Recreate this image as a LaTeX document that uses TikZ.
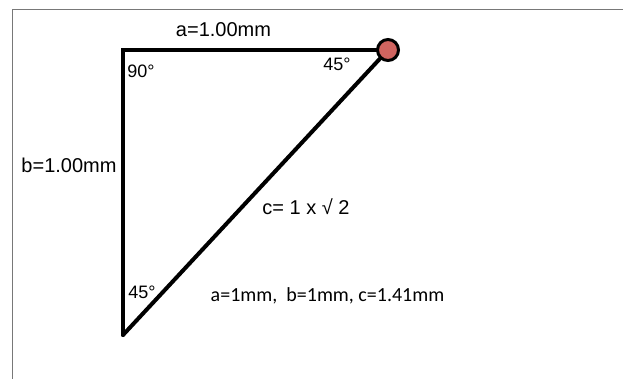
\documentclass[tikz,border=0pt]{standalone}
\usepackage{fontspec}
\setmainfont{Liberation Sans}
\newfontfamily\sumfont{Carlito}
\definecolor{dotred}{RGB}{208,100,96}
\definecolor{framegray}{RGB}{120,120,120}

\begin{document}
\begin{tikzpicture}[x=1pt,y=-1pt,
          every node/.style={font=\fontsize{20}{24}\selectfont,inner sep=0pt},
          angle/.style={font=\fontsize{18}{22}\selectfont},
          leg/.style={line width=4pt,line join=miter}]
          \useasboundingbox (0,0) rectangle (623,379);
          \clip (0,0) rectangle (623,379);
          \fill[white] (0,0) rectangle (623,379);
          \draw[framegray,line width=1pt] (12,10) rectangle (650,400);
          % corners of the triangle
          \coordinate (P90) at (123,50);
          \coordinate (P45) at (123,335);
          \coordinate (Pdot) at (388,50);
          \draw[leg,line cap=round] (Pdot) -- (P90) -- (P45);
          \draw[leg,line cap=round] (P45) -- (Pdot);
          \node[circle,draw,line width=3pt,fill=dotred,minimum size=21pt] (Ndot) at (Pdot) {};
          % labels
          \node (La) at (223.5,30) {a=1.00mm};
          \node (Lb) at (69,165) {b=1.00mm};
          \node[angle] (L90) at (141,71) {90°};
          \node[angle] (L45top) at (337,64) {45°};
          \node (Lc) at (306,207) {c= 1 x √ 2};
          \node[angle] (L45bot) at (142,292) {45°};
          \node[font=\sumfont\fontsize{20}{24}\selectfont] (Lsum) at (327.5,296) {a=1mm,\ \ b=1mm, c=1.41mm};
        \end{tikzpicture}
\end{document}
